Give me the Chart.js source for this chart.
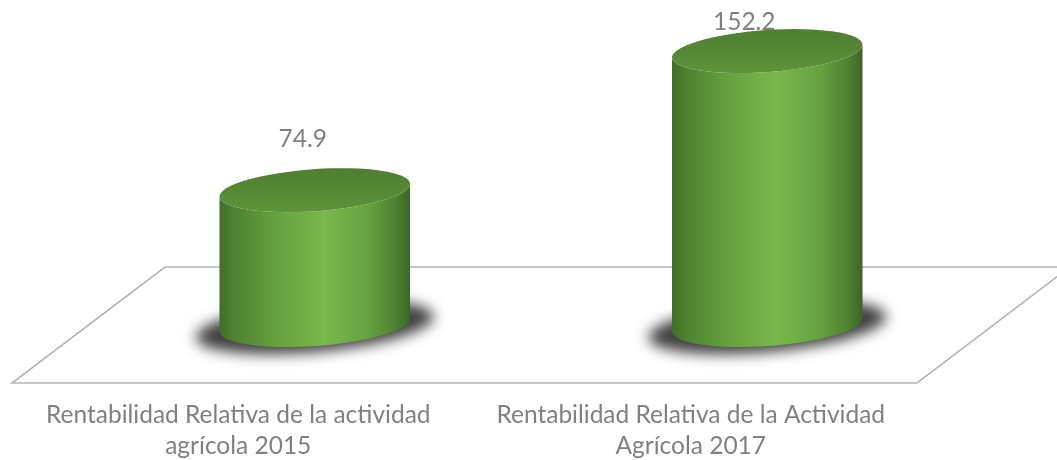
<!DOCTYPE html>
<html>
<head>
<meta charset="utf-8">
<script src="https://cdn.jsdelivr.net/npm/chart.js@4"></script>
<style>
  html, body { margin: 0; padding: 0; background: #ffffff; }
  #wrap { width: 1057px; height: 460px; position: relative; }
</style>
</head>
<body>
<div id="wrap"><canvas id="c"></canvas></div>
<script>
// ---- data ----
const categories = [
  ["Rentabilidad Relativa de la actividad", "agrícola 2015"],
  ["Rentabilidad Relativa de la Actividad", "Agrícola 2017"]
];
const values = [74.9, 152.2];
const valueLabels = ["74.9", "152.2"];

// ---- style ----
const FONT_FAMILY = "Lato, 'Open Sans', sans-serif";
const TEXT_COLOR = "#7f7f7f";
const DEPTH_X = 153;   // floor depth (perspective) offset
const DEPTH_Y = 116;
const TILT = -0.07;    // ellipse tilt (radians)
const ELL_RY = 21;

// fit the font size so the first label line has the reference width
function fitSize(text, target) {
  const cv = document.createElement('canvas').getContext('2d');
  cv.font = "100px " + FONT_FAMILY;
  return Math.round(100 * target / cv.measureText(text).width * 10) / 10;
}
const FONT_SIZE = fitSize(categories[0][0], 385);

const cylPlugin = {
  id: 'cyl',
  beforeDatasetsDraw(chart) {
    const ctx = chart.ctx, a = chart.chartArea;
    ctx.save();
    ctx.beginPath();
    ctx.moveTo(a.left, a.bottom);
    ctx.lineTo(a.right, a.bottom);
    ctx.lineTo(a.right + DEPTH_X, a.bottom - DEPTH_Y);
    ctx.lineTo(a.left + DEPTH_X, a.bottom - DEPTH_Y);
    ctx.closePath();
    ctx.fillStyle = '#ffffff';
    ctx.fill();
    ctx.strokeStyle = '#b3b3b3';
    ctx.lineWidth = 1.6;
    ctx.lineJoin = 'miter';
    ctx.stroke();
    ctx.restore();
  },
  afterDatasetsDraw(chart) {
    const ctx = chart.ctx;
    const meta = chart.getDatasetMeta(0);
    meta.data.forEach((bar, i) => {
      const cx = bar.x + DEPTH_X / 2;
      const topY = bar.y - DEPTH_Y / 2;
      const baseY = bar.base - DEPTH_Y / 2;
      const rx = bar.width / 2;
      const ry = ELL_RY;

      // shadow
      ctx.save();
      ctx.filter = 'blur(7px)';
      ctx.fillStyle = 'rgba(30,30,30,0.85)';
      ctx.beginPath();
      ctx.ellipse(cx, baseY + 2, rx + 24, ry + 4, TILT * 1.3, 0, Math.PI * 2);
      ctx.fill();
      ctx.restore();

      // side
      ctx.save();
      const g = ctx.createLinearGradient(cx - rx, 0, cx + rx, 0);
      g.addColorStop(0, '#3f6d25');
      g.addColorStop(0.07, '#4e8031');
      g.addColorStop(0.3, '#66a13f');
      g.addColorStop(0.55, '#79b84c');
      g.addColorStop(0.78, '#66a13f');
      g.addColorStop(0.93, '#4d7f30');
      g.addColorStop(1, '#3a6522');
      ctx.beginPath();
      const c = Math.cos(TILT), s = Math.sin(TILT);
      ctx.moveTo(cx - rx * c, topY - rx * s);
      ctx.lineTo(cx - rx * c, baseY - rx * s);
      ctx.ellipse(cx, baseY, rx, ry, TILT, Math.PI, 0, true);
      ctx.lineTo(cx + rx * c, topY + rx * s);
      ctx.ellipse(cx, topY, rx, ry, TILT, 0, Math.PI, false);
      ctx.closePath();
      ctx.fillStyle = g;
      ctx.fill();
      ctx.restore();

      // top
      ctx.save();
      const tg = ctx.createLinearGradient(0, topY - ry, 0, topY + ry);
      tg.addColorStop(0, '#4f7f31');
      tg.addColorStop(0.6, '#578a36');
      tg.addColorStop(1, '#5e943a');
      ctx.beginPath();
      ctx.ellipse(cx, topY, rx, ry, TILT, 0, Math.PI * 2);
      ctx.fillStyle = tg;
      ctx.fill();
      ctx.restore();

      // value label
      const ellTop = topY - ry;
      let ly = ellTop - 30;
      let clampDiff = 0;
      if (ly < 22) { clampDiff = 22 - ly; ly = 22; }
      const lx = cx - 12 - clampDiff * 0.5;
      ctx.save();
      ctx.font = FONT_SIZE + "px " + FONT_FAMILY;
      ctx.fillStyle = TEXT_COLOR;
      ctx.textAlign = 'center';
      ctx.textBaseline = 'middle';
      ctx.fillText(valueLabels[i], lx, ly);
      ctx.restore();
    });
  }
};

new Chart(document.getElementById('c'), {
  type: 'bar',
  data: {
    labels: categories,
    datasets: [{
      data: values,
      backgroundColor: 'rgba(0,0,0,0)',
      borderWidth: 0,
      categoryPercentage: 1,
      barPercentage: 0.422
    }]
  },
  options: {
    responsive: true,
    maintainAspectRatio: false,
    animation: false,
    layout: { padding: { left: 12, right: 140, top: 5, bottom: -19 } },
    plugins: { legend: { display: false }, tooltip: { enabled: false } },
    scales: {
      x: {
        offset: true,
        grid: { display: false, drawTicks: false },
        border: { display: false },
        ticks: {
          color: TEXT_COLOR,
          padding: 17,
          maxRotation: 0,
          autoSkip: false,
          font: { family: FONT_FAMILY, size: FONT_SIZE, lineHeight: '31px' }
        }
      },
      y: {
        display: false,
        min: 0,
        max: 210
      }
    }
  },
  plugins: [cylPlugin]
});
</script>
</body>
</html>
